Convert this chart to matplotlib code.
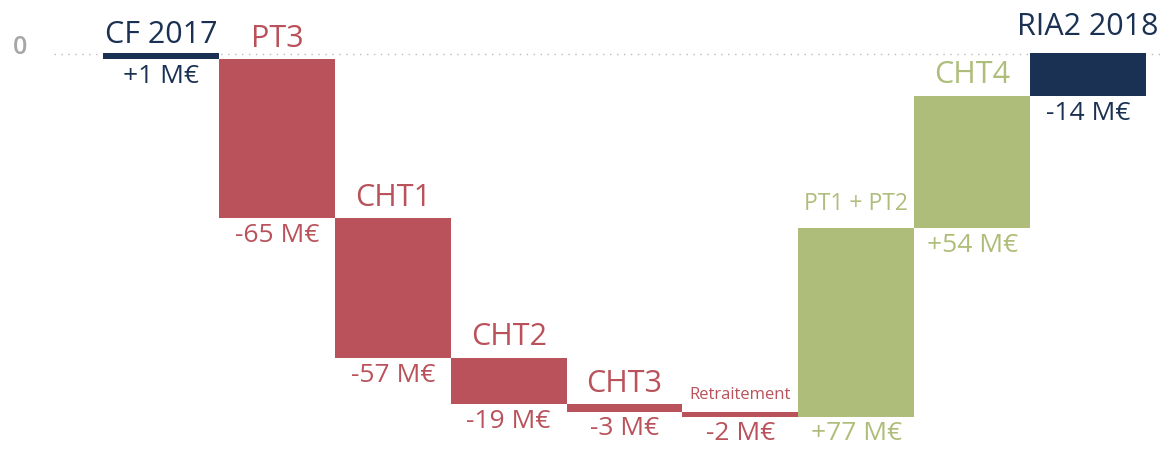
import matplotlib.pyplot as plt

# categories and values (M€)
names = ["CF 2017", "PT3", "CHT1", "CHT2", "CHT3", "Retraitement", "PT1 + PT2", "CHT4", "RIA2 2018"]
values = [1, -65, -57, -19, -3, -2, 77, 54, -14]
# level the steps start from after the first bar
start_level = -2

navy = "#1b3153"
red = "#b9525a"
green = "#aebd7a"

plt.rcParams['font.family'] = ['Open Sans', 'DejaVu Sans']

fig = plt.figure(figsize=(11.64, 4.51), dpi=100)
ax = fig.add_axes([0, 0, 1, 1])

# compute bar extents
bottoms = []
tops = []
colors = []
level = start_level
for i, v in enumerate(values):
    if i == 0:
        lo, hi = start_level, 0.6
        c = navy
    elif i == len(values) - 1:
        lo, hi = level, 0.6
        c = navy
    else:
        new = level + v
        lo, hi = min(level, new), max(level, new)
        level = new
        c = red if v < 0 else green
    bottoms.append(lo)
    tops.append(hi)
    colors.append(c)

x = list(range(len(names)))
heights = [t - b for t, b in zip(tops, bottoms)]
ax.bar(x, heights, bottom=bottoms, width=1.0, color=colors, linewidth=0, zorder=3)

# zero line
ax.plot([-0.92, 8.7], [0, 0], color="#bbbbbb", linestyle=(0, (1, 4)), linewidth=1, zorder=1)
ax.text(-1.22, 2.8, "0", color="#a6a6a6", fontsize=18, fontweight="semibold",
        ha="center", va="center")

sizes = {"Retraitement": 12, "PT1 + PT2": 16.5}
name_gap = {"CF 2017": 7, "PT1 + PT2": 13, "RIA2 2018": 13}
for i, name in enumerate(names):
    fs = sizes.get(name, 22)
    ax.annotate(name, (x[i], tops[i]), xytext=(0, name_gap.get(name, 9)),
                textcoords="offset points", ha="center", va="baseline",
                fontsize=fs, color=colors[i])
    lbl = ("+" if values[i] > 0 else "-") + str(abs(values[i])) + " M€"
    ax.annotate(lbl, (x[i], bottoms[i]), xytext=(0, -17), textcoords="offset points",
                ha="center", va="baseline", fontsize=19, color=colors[i])

ax.set_xlim(-1.389, 8.655)
ax.set_ylim(-162, 22.2)
ax.axis("off")

fig.savefig("out.png", dpi=100)
